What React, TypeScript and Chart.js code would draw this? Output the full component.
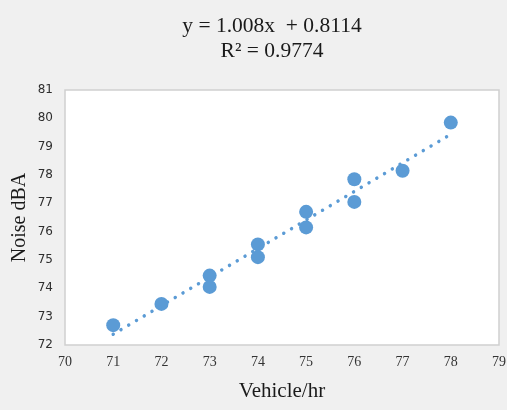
import React, { useEffect, useRef } from "react";
import { Chart, registerables } from "chart.js";

Chart.register(...registerables);

const vehiclesPerHour = [71, 72, 73, 73, 74, 74, 75, 75, 76, 76, 77, 78];
const noiseDBA = [72.7, 73.45, 74.45, 74.05, 75.55, 75.1, 76.7, 76.15, 77.85, 77.05, 78.15, 79.85];
const trendSlope = 1.008;
const trendIntercept = 0.8114;
const trendRangeX = [71, 78];
const titleLines = ["y = 1.008x  + 0.8114", "R\u00B2 = 0.9774"];
const xTitle = "Vehicle/hr";
const yTitle = "Noise dBA";

const BLUE = "#5b9bd5";

const framePlugin = {
  id: "frame",
  beforeDraw(chart: any) {
    const { ctx, chartArea } = chart;
    ctx.save();
    ctx.fillStyle = "#f0f0f0";
    ctx.fillRect(0, 0, chart.width, chart.height);
    ctx.fillStyle = "#ffffff";
    ctx.fillRect(chartArea.left, chartArea.top, chartArea.right - chartArea.left, chartArea.bottom - chartArea.top);
    ctx.strokeStyle = "#cfcfcf";
    ctx.lineWidth = 1.5;
    ctx.strokeRect(chartArea.left, chartArea.top, chartArea.right - chartArea.left, chartArea.bottom - chartArea.top);
    ctx.restore();
  },
  afterDraw(chart: any) {
    const { ctx } = chart;
    ctx.save();
    ctx.fillStyle = "#1a1a1a";
    ctx.font = "21.5px 'Liberation Serif'";
    ctx.textAlign = "center";
    ctx.textBaseline = "middle";
    ctx.fillText(titleLines[0], 272, 26);
    ctx.fillText(titleLines[1], 272, 51);
    ctx.restore();
  },
};

export default function App() {
  const ref = useRef<HTMLCanvasElement | null>(null);

  useEffect(() => {
    document.body.style.margin = "0";
    const points = vehiclesPerHour.map((x, i) => ({ x, y: noiseDBA[i] }));
    const trend = trendRangeX.map((x) => ({ x, y: trendSlope * x + trendIntercept }));
    const chart = new Chart(ref.current as HTMLCanvasElement, {
      type: "scatter",
      data: {
        datasets: [
          {
            type: "line",
            data: trend,
            borderColor: BLUE,
            borderWidth: 3.5,
            borderDash: [0.01, 9],
            borderCapStyle: "round",
            pointRadius: 0,
            fill: false,
            order: 0,
          } as any,
          {
            data: points,
            backgroundColor: BLUE,
            borderColor: BLUE,
            borderWidth: 0,
            pointRadius: 7,
            order: 1,
          },
        ],
      },
      options: {
        responsive: false,
        animation: false,
        layout: { padding: { top: 90, right: 8, bottom: 0, left: 0 } },
        plugins: { legend: { display: false }, tooltip: { enabled: false }, title: { display: false } },
        scales: {
          x: {
            type: "linear",
            min: 70,
            max: 79,
            grid: { display: false, drawTicks: false },
            border: { display: false },
            ticks: {
              stepSize: 1,
              padding: 9,
              color: "#333333",
              font: { family: "'Liberation Serif'", size: 14 },
            },
            title: {
              display: true,
              text: xTitle,
              color: "#1a1a1a",
              font: { family: "'Liberation Serif'", size: 21 },
              padding: { top: 0, bottom: 6 },
            },
            afterFit(scale: any) {
              scale.height = 65;
              scale.paddingLeft = 0;
              scale.paddingRight = 0;
            },
          },
          y: {
            type: "linear",
            min: 72,
            max: 81,
            grid: { display: false, drawTicks: false },
            border: { display: false },
            ticks: {
              stepSize: 1,
              padding: 12,
              color: "#2e2e2e",
              font: { family: "'DejaVu Sans'", size: 12 },
            },
            title: {
              display: true,
              text: yTitle,
              color: "#1a1a1a",
              font: { family: "'Liberation Serif'", size: 20 },
              padding: { top: 8, bottom: 0 },
            },
            afterFit(scale: any) {
              scale.width = 65;
              scale.paddingTop = 0;
              scale.paddingBottom = 0;
            },
          },
        },
      },
      plugins: [framePlugin],
    });
    return () => chart.destroy();
  }, []);

  return (
    <div style={{ position: "fixed", left: 0, top: 0, width: 507, height: 410 }}>
      <canvas ref={ref} width={507} height={410} />
    </div>
  );
}
